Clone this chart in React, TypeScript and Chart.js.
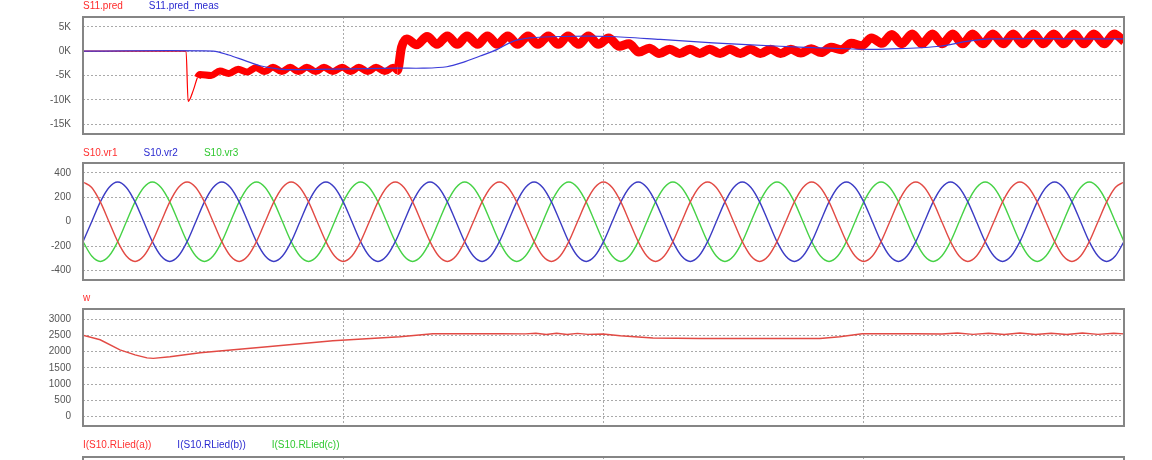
import React, { useEffect, useRef } from "react";
import { Chart, registerables } from "chart.js";
Chart.register(...registerables);

// ---------- shared x (time, ms) ----------
const X_MIN = 0;
const X_MAX = 200;
const X_STEP = 50;

// ---------- Panel 1 : S11.pred / S11.pred_meas (values in K) ----------
const p1Legend = ["S11.pred", "S11.pred_meas"];
const p1Ticks = [-15, -10, -5, 0, 5];
const predT = [
  0, 19.8, 20.2, 21.2, 22.0, 22.5,
  24.6, 26.3, 28.0, 29.8, 31.5, 33.2, 34.9, 36.5, 38.2, 39.8, 41.4, 43.0, 44.7, 46.3,
  48.0, 49.8, 51.4, 53.0, 54.7, 56.3, 58.0, 59.6, 60.4,
  61.2, 62.2, 64.1, 66.1, 68.0, 70.0, 71.9, 73.8, 75.8, 77.7, 79.6, 81.6, 83.5, 85.5,
  87.4, 89.4, 91.3, 93.2, 95.2, 97.1, 99.0, 101.0, 103.0, 104.9, 106.8, 108.8, 110.7,
  112.7, 114.6, 116.6, 118.5, 120.4, 122.4, 124.3, 126.3, 128.2, 130.1, 132.1, 134.0,
  136.0, 137.9, 139.9, 141.8, 143.7, 145.7, 147.6, 149.6, 151.5, 153.5, 155.4, 157.3,
  159.3, 161.2, 163.2, 165.1, 167.1, 169.0, 170.9, 172.9, 174.8, 176.8, 178.7, 180.6,
  182.6, 184.5, 186.5, 188.4, 190.4, 192.3, 194.2, 196.2, 198.1, 200,
];
const predV = [
  0, 0, -10.3, -8.0, -5.4, -4.8,
  -5.0, -4.1, -4.6, -3.7, -4.3, -3.4, -4.2, -3.3, -4.2, -3.3, -4.2, -3.3, -4.2, -3.3,
  -4.2, -3.3, -4.2, -3.3, -4.2, -3.3, -4.2, -3.3, -4.0,
  0.8, 2.5, 1.3, 3.0, 1.4, 3.1, 1.4, 3.1, 1.4, 3.1, 1.4, 3.1, 1.4, 3.1,
  1.4, 3.1, 1.4, 3.1, 1.4, 3.1, 1.4, 2.7, 1.0, 1.5, -0.2, 0.6, -0.5,
  0.4, -0.5, 0.4, -0.5, 0.4, -0.5, 0.4, -0.5, 0.4, -0.5, 0.4, -0.5,
  0.4, -0.4, 0.5, -0.3, 0.8, 0.3, 1.6, 1.1, 2.7, 1.6, 3.4, 1.5,
  3.5, 1.5, 3.5, 1.5, 3.5, 1.5, 3.5, 1.5, 3.5, 1.5, 3.5, 1.5,
  3.5, 1.5, 3.5, 1.5, 3.5, 1.5, 3.5, 1.5, 3.5, 2.0,
];
const predMeasT = [0, 25, 28, 31, 34, 37.8, 42, 60.5, 65.3, 69.9, 73, 76.3, 79.5, 82.6, 85.9, 91.6, 101.2, 110.9, 121.0, 133.9, 143.5, 151.2, 157, 164.6, 169.8, 174.2, 200];
const predMeasV = [0, 0, -0.8, -1.9, -3.0, -3.7, -3.8, -3.5, -3.5, -3.2, -2.3, -1.0, 0.3, 2.0, 2.7, 3.0, 3.0, 2.4, 1.7, 1.0, 0.6, 0.35, 0.5, 1.0, 2.0, 2.5, 2.5];

// ---------- Panel 2 : three-phase voltages ----------
const p2Legend = ["S10.vr1", "S10.vr2", "S10.vr3"];
const p2Ticks = [-400, -200, 0, 200, 400];
const vT = [
  0, 1.67, 3.33, 5, 6.67, 8.33, 10, 11.67, 13.33, 15, 16.67, 18.33,
  20, 21.67, 23.33, 25, 26.67, 28.33, 30, 31.67, 33.33, 35, 36.67, 38.33,
  40, 41.67, 43.33, 45, 46.67, 48.33, 50, 51.67, 53.33, 55, 56.67, 58.33,
  60, 61.67, 63.33, 65, 66.67, 68.33, 70, 71.67, 73.33, 75, 76.67, 78.33,
  80, 81.67, 83.33, 85, 86.67, 88.33, 90, 91.67, 93.33, 95, 96.67, 98.33,
  100, 101.67, 103.33, 105, 106.67, 108.33, 110, 111.67, 113.33, 115, 116.67, 118.33,
  120, 121.67, 123.33, 125, 126.67, 128.33, 130, 131.67, 133.33, 135, 136.67, 138.33,
  140, 141.67, 143.33, 145, 146.67, 148.33, 150, 151.67, 153.33, 155, 156.67, 158.33,
  160, 161.67, 163.33, 165, 166.67, 168.33, 170, 171.67, 173.33, 175, 176.67, 178.33,
  180, 181.67, 183.33, 185, 186.67, 188.33, 190, 191.67, 193.33, 195, 196.67, 198.33,
  200,
];
const vr1 = [
  325, 281, 163, 0, -163, -281, -325, -281, -163, 0, 163, 281,
  325, 281, 163, 0, -163, -281, -325, -281, -163, 0, 163, 281,
  325, 281, 163, 0, -163, -281, -325, -281, -163, 0, 163, 281,
  325, 281, 163, 0, -163, -281, -325, -281, -163, 0, 163, 281,
  325, 281, 163, 0, -163, -281, -325, -281, -163, 0, 163, 281,
  325, 281, 163, 0, -163, -281, -325, -281, -163, 0, 163, 281,
  325, 281, 163, 0, -163, -281, -325, -281, -163, 0, 163, 281,
  325, 281, 163, 0, -163, -281, -325, -281, -163, 0, 163, 281,
  325, 281, 163, 0, -163, -281, -325, -281, -163, 0, 163, 281,
  325, 281, 163, 0, -163, -281, -325, -281, -163, 0, 163, 281,
  325,
];
const vr2 = [
  -163, 0, 163, 281, 325, 281, 163, 0, -163, -281, -325, -281,
  -163, 0, 163, 281, 325, 281, 163, 0, -163, -281, -325, -281,
  -163, 0, 163, 281, 325, 281, 163, 0, -163, -281, -325, -281,
  -163, 0, 163, 281, 325, 281, 163, 0, -163, -281, -325, -281,
  -163, 0, 163, 281, 325, 281, 163, 0, -163, -281, -325, -281,
  -163, 0, 163, 281, 325, 281, 163, 0, -163, -281, -325, -281,
  -163, 0, 163, 281, 325, 281, 163, 0, -163, -281, -325, -281,
  -163, 0, 163, 281, 325, 281, 163, 0, -163, -281, -325, -281,
  -163, 0, 163, 281, 325, 281, 163, 0, -163, -281, -325, -281,
  -163, 0, 163, 281, 325, 281, 163, 0, -163, -281, -325, -281,
  -163,
];
const vr3 = [
  -163, -281, -325, -281, -163, 0, 163, 281, 325, 281, 163, 0,
  -163, -281, -325, -281, -163, 0, 163, 281, 325, 281, 163, 0,
  -163, -281, -325, -281, -163, 0, 163, 281, 325, 281, 163, 0,
  -163, -281, -325, -281, -163, 0, 163, 281, 325, 281, 163, 0,
  -163, -281, -325, -281, -163, 0, 163, 281, 325, 281, 163, 0,
  -163, -281, -325, -281, -163, 0, 163, 281, 325, 281, 163, 0,
  -163, -281, -325, -281, -163, 0, 163, 281, 325, 281, 163, 0,
  -163, -281, -325, -281, -163, 0, 163, 281, 325, 281, 163, 0,
  -163, -281, -325, -281, -163, 0, 163, 281, 325, 281, 163, 0,
  -163, -281, -325, -281, -163, 0, 163, 281, 325, 281, 163, 0,
  -163,
];

// ---------- Panel 3 : speed w ----------
const p3Legend = ["w"];
const p3Ticks = [0, 500, 1000, 1500, 2000, 2500, 3000];
const wT = [0, 0, 3.3, 7.1, 10.0, 12.3, 13.5, 16.7, 22.5, 35.4, 48.0, 60.9, 67.2, 80.1, 85, 87, 89, 91, 93, 95, 97, 99.9, 103.2, 109.5, 118.5, 141.6, 145.4, 149.7, 160, 165, 168, 171, 174, 177, 180, 183, 186, 189, 192, 195, 198, 200];
const wV = [0, 2500, 2363, 2055, 1900, 1808, 1790, 1840, 1962, 2147, 2332, 2455, 2548, 2550, 2545, 2565, 2525, 2565, 2525, 2560, 2530, 2540, 2486, 2415, 2400, 2400, 2455, 2548, 2550, 2540, 2570, 2530, 2565, 2525, 2570, 2525, 2565, 2525, 2570, 2530, 2565, 2545];

// ---------- Panel 4 : load currents (only header visible) ----------
const p4Legend = ["I(S10.RLied(a))", "I(S10.RLied(b))", "I(S10.RLied(c))"];
const p4Ticks = [-40, -20, 0, 20, 40];

const RED = "#ff0000";
const BLUE = "#3b3bd8";
const SRED = "#e24a44";
const SBLUE = "#3c3cc4";
const SGREEN = "#46d246";

const pts = (t: number[], v: number[]) => t.map((x, i) => ({ x, y: v[i] }));

const framePlugin = (legendY: number, items: { text: string; color: string }[]) => ({
  id: "frameLegend",
  afterDraw(chart: any) {
    const { ctx, chartArea: a } = chart;
    ctx.save();
    ctx.strokeStyle = "#858585";
    ctx.lineWidth = 2;
    ctx.strokeRect(a.left, a.top, a.right - a.left, a.bottom - a.top);
    ctx.font = '10px "Liberation Sans", Arial, sans-serif';
    ctx.textBaseline = "middle";
    ctx.textAlign = "left";
    let x = a.left;
    for (const it of items) {
      ctx.fillStyle = it.color;
      ctx.fillText(it.text, x, legendY);
      x += ctx.measureText(it.text).width + 26;
    }
    ctx.restore();
  },
});

type PanelProps = {
  top: number;
  height: number;
  padTop: number;
  padBottom: number;
  legendY: number;
  yMin: number;
  yMax: number;
  ticks: number[];
  fmt: (v: number) => string;
  datasets: any[];
  legend: { text: string; color: string }[];
};

const zeroPad = (s: any) => {
  s.paddingTop = 0;
  s.paddingBottom = 0;
  s.paddingLeft = 0;
  s.paddingRight = 0;
};

function Panel(p: PanelProps) {
  const ref = useRef<HTMLCanvasElement>(null);
  useEffect(() => {
    const gridCfg = { color: "#a9a9a9", lineWidth: 1, drawTicks: false };
    const chart = new Chart(ref.current as HTMLCanvasElement, {
      type: "line",
      data: { datasets: p.datasets },
      options: {
        animation: false,
        responsive: false,
        devicePixelRatio: 1,
        layout: { padding: { top: p.padTop, bottom: p.padBottom, left: 0, right: 28 } },
        plugins: { legend: { display: false }, tooltip: { enabled: false } },
        elements: { point: { radius: 0 } },
        scales: {
          x: {
            type: "linear",
            min: X_MIN,
            max: X_MAX,
            ticks: { display: false, stepSize: X_STEP },
            afterFit: (s: any) => { s.height = 0; zeroPad(s); },
            grid: gridCfg,
            border: { display: false, dash: [2, 2] },
          },
          y: {
            type: "linear",
            min: p.yMin,
            max: p.yMax,
            afterBuildTicks: (s: any) => { s.ticks = p.ticks.map((v) => ({ value: v })); },
            afterFit: (s: any) => { s.width = 83; zeroPad(s); },
            ticks: {
              padding: 12,
              color: "#555",
              font: { size: 10, family: '"Liberation Sans", Arial, sans-serif' },
              callback: (v: any) => p.fmt(Number(v)),
            },
            grid: gridCfg,
            border: { display: false, dash: [2, 2] },
          },
        },
      } as any,
      plugins: [framePlugin(p.legendY, p.legend)],
    });
    return () => chart.destroy();
  }, []);
  return (
    <canvas
      ref={ref}
      width={1152}
      height={p.height}
      style={{ position: "absolute", left: 0, top: p.top, display: "block" }}
    />
  );
}

export default function App() {
  const p1Datasets = [
    { label: p1Legend[1], data: pts(predMeasT, predMeasV), borderColor: BLUE, borderWidth: 1.2, tension: 0.3 },
    {
      label: p1Legend[0],
      data: pts(predT, predV),
      borderColor: RED,
      borderWidth: 6,
      borderJoinStyle: "round",
      cubicInterpolationMode: "monotone",
      segment: {
        borderWidth: (c: any) => (c.p0.parsed.x < 22 ? 1.2 : c.p0.parsed.x < 60.4 ? 7 : 9),
      },
    },
  ];
  const p2Datasets = [
    { label: p2Legend[0], data: pts(vT, vr1), borderColor: SRED, borderWidth: 1.4, cubicInterpolationMode: "monotone" },
    { label: p2Legend[1], data: pts(vT, vr2), borderColor: SBLUE, borderWidth: 1.4, cubicInterpolationMode: "monotone" },
    { label: p2Legend[2], data: pts(vT, vr3), borderColor: SGREEN, borderWidth: 1.4, cubicInterpolationMode: "monotone" },
  ];
  const p3Datasets = [
    { label: p3Legend[0], data: pts(wT, wV), borderColor: SRED, borderWidth: 1.4 },
  ];
  const p4Datasets = [
    { label: p4Legend[0], data: [], borderColor: SRED },
    { label: p4Legend[1], data: [], borderColor: SBLUE },
    { label: p4Legend[2], data: [], borderColor: SGREEN },
  ];
  return (
    <div style={{ position: "absolute", left: 0, top: 0, width: 1152, height: 460, overflow: "hidden", background: "#fff" }}>
      <Panel
        top={0} height={140} padTop={17} padBottom={6} legendY={6}
        yMin={-17} yMax={7} ticks={p1Ticks} fmt={(v) => `${v}K`}
        datasets={p1Datasets}
        legend={[{ text: p1Legend[0], color: "#ff2a2a" }, { text: p1Legend[1], color: "#2a2ad0" }]}
      />
      <Panel
        top={140} height={150} padTop={23} padBottom={10} legendY={13}
        yMin={-477} yMax={481} ticks={p2Ticks} fmt={(v) => `${v}`}
        datasets={p2Datasets}
        legend={[{ text: p2Legend[0], color: "#ff3030" }, { text: p2Legend[1], color: "#2a2ad0" }, { text: p2Legend[2], color: "#30c830" }]}
      />
      <Panel
        top={290} height={145} padTop={19} padBottom={9} legendY={8}
        yMin={-286} yMax={3308} ticks={p3Ticks} fmt={(v) => `${v}`}
        datasets={p3Datasets}
        legend={[{ text: p3Legend[0], color: "#ff3030" }]}
      />
      <Panel
        top={430} height={140} padTop={27} padBottom={6} legendY={15}
        yMin={-60} yMax={60} ticks={p4Ticks} fmt={(v) => `${v}`}
        datasets={p4Datasets}
        legend={[{ text: p4Legend[0], color: "#ff3030" }, { text: p4Legend[1], color: "#2a2ad0" }, { text: p4Legend[2], color: "#30c830" }]}
      />
    </div>
  );
}
